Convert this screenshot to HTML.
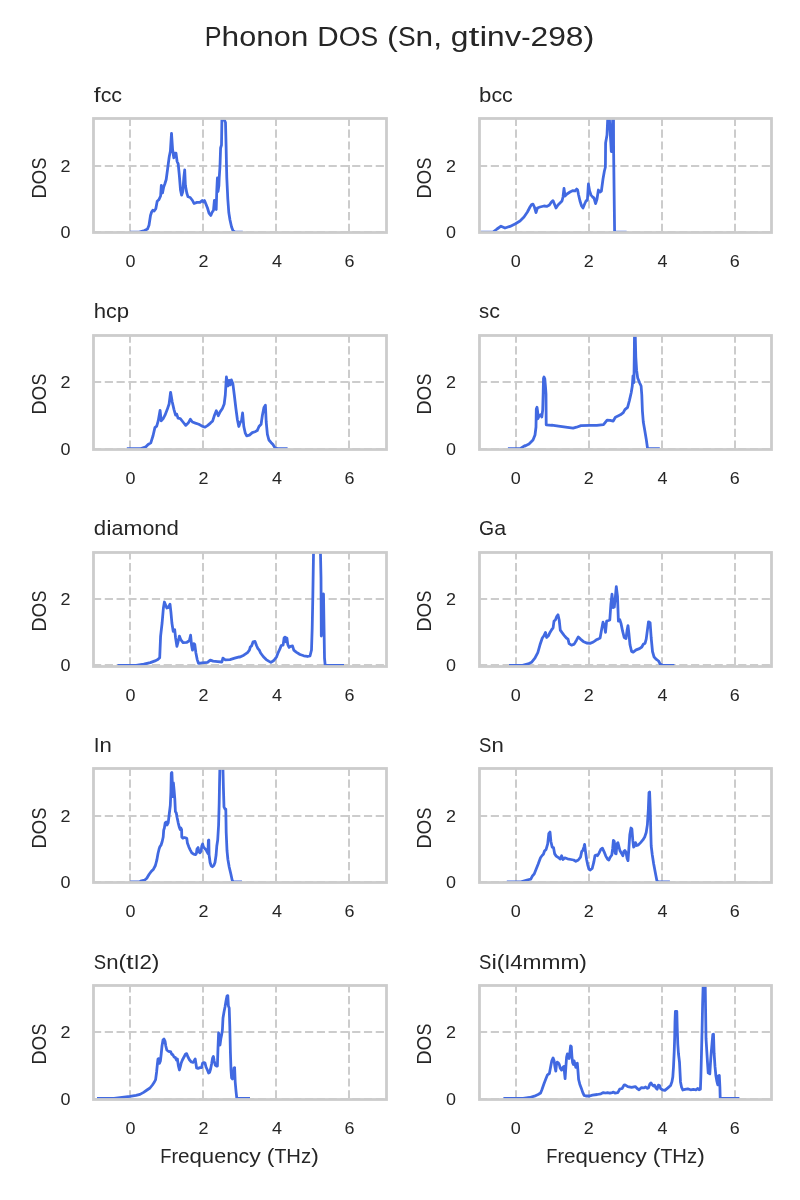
<!DOCTYPE html>
<html><head><meta charset="utf-8"><title>Phonon DOS</title>
<style>html,body{margin:0;padding:0;background:#fff}svg{display:block}text{font-family:"Liberation Sans",sans-serif;fill:#262626;filter:grayscale(1)}</style></head>
<body>
<svg width="800" height="1200" viewBox="0 0 800 1200">
<rect x="0" y="0" width="800" height="1200" fill="#ffffff"/>
<text x="204.82" y="45.90" font-size="28.20" textLength="16.76" lengthAdjust="spacingAndGlyphs">P</text>
<text x="221.58" y="45.90" font-size="28.20" textLength="17.62" lengthAdjust="spacingAndGlyphs">h</text>
<text x="239.20" y="45.90" font-size="28.20" textLength="17.01" lengthAdjust="spacingAndGlyphs">o</text>
<text x="256.21" y="45.90" font-size="28.20" textLength="17.62" lengthAdjust="spacingAndGlyphs">n</text>
<text x="273.83" y="45.90" font-size="28.20" textLength="17.01" lengthAdjust="spacingAndGlyphs">o</text>
<text x="290.84" y="45.90" font-size="28.20" textLength="17.62" lengthAdjust="spacingAndGlyphs">n</text>
<text x="317.29" y="45.90" font-size="28.20" textLength="21.41" lengthAdjust="spacingAndGlyphs">D</text>
<text x="338.70" y="45.90" font-size="28.20" textLength="21.88" lengthAdjust="spacingAndGlyphs">O</text>
<text x="360.58" y="45.90" font-size="28.20" textLength="17.65" lengthAdjust="spacingAndGlyphs">S</text>
<text x="387.06" y="45.90" font-size="28.20" textLength="10.85" lengthAdjust="spacingAndGlyphs">(</text>
<text x="397.91" y="45.90" font-size="28.20" textLength="17.65" lengthAdjust="spacingAndGlyphs">S</text>
<text x="415.56" y="45.90" font-size="28.20" textLength="17.62" lengthAdjust="spacingAndGlyphs">n</text>
<text x="433.18" y="45.90" font-size="28.20" textLength="8.84" lengthAdjust="spacingAndGlyphs">,</text>
<text x="450.85" y="45.90" font-size="28.20" textLength="17.65" lengthAdjust="spacingAndGlyphs">g</text>
<text x="468.50" y="45.90" font-size="28.20" textLength="10.90" lengthAdjust="spacingAndGlyphs">t</text>
<text x="479.40" y="45.90" font-size="28.20" textLength="7.72" lengthAdjust="spacingAndGlyphs">i</text>
<text x="487.12" y="45.90" font-size="28.20" textLength="17.62" lengthAdjust="spacingAndGlyphs">n</text>
<text x="504.74" y="45.90" font-size="28.20" textLength="16.45" lengthAdjust="spacingAndGlyphs">v</text>
<text x="521.19" y="45.90" font-size="28.20" textLength="9.28" lengthAdjust="spacingAndGlyphs">-</text>
<text x="530.48" y="45.90" font-size="28.20" textLength="17.69" lengthAdjust="spacingAndGlyphs">2</text>
<text x="548.16" y="45.90" font-size="28.20" textLength="17.69" lengthAdjust="spacingAndGlyphs">9</text>
<text x="565.85" y="45.90" font-size="28.20" textLength="17.69" lengthAdjust="spacingAndGlyphs">8</text>
<text x="583.54" y="45.90" font-size="28.20" textLength="10.85" lengthAdjust="spacingAndGlyphs">)</text>
<g>
<clipPath id="c1"><rect x="93.50" y="118.50" width="293.00" height="114.00"/></clipPath>
<line x1="130.00" y1="232.05" x2="130.00" y2="118.50" stroke="#cccccc" stroke-width="2.00" stroke-dasharray="8.2 3.58"/>
<line x1="203.00" y1="232.05" x2="203.00" y2="118.50" stroke="#cccccc" stroke-width="2.00" stroke-dasharray="8.2 3.58"/>
<line x1="276.00" y1="232.05" x2="276.00" y2="118.50" stroke="#cccccc" stroke-width="2.00" stroke-dasharray="8.2 3.58"/>
<line x1="349.00" y1="232.05" x2="349.00" y2="118.50" stroke="#cccccc" stroke-width="2.00" stroke-dasharray="8.2 3.58"/>
<line x1="93.00" y1="166.00" x2="386.50" y2="166.00" stroke="#cccccc" stroke-width="2.00" stroke-dasharray="8.2 3.58"/>
<line x1="93.00" y1="232.00" x2="386.50" y2="232.00" stroke="#cccccc" stroke-width="2.00" stroke-dasharray="8.2 3.58"/>
<path d="M129.9 232.1 L139.2 232.1 L144.5 230.5 L147.5 229.0 L149.0 225.2 L150.5 215.5 L151.7 211.8 L152.8 210.2 L154.2 211.0 L155.8 208.8 L157.2 201.2 L158.8 199.8 L160.6 196.0 L161.3 185.5 L162.5 193.0 L163.7 187.0 L164.8 184.0 L166.2 179.5 L167.8 167.5 L169.2 157.0 L170.4 151.0 L171.5 133.3 L172.6 149.5 L173.8 157.8 L174.9 153.2 L176.0 153.2 L177.1 161.5 L178.2 163.8 L179.3 175.0 L180.5 190.0 L181.6 195.2 L182.8 191.5 L183.8 178.0 L184.7 169.8 L185.4 185.5 L186.8 193.0 L188.0 196.8 L190.2 197.5 L192.5 200.5 L194.0 203.5 L197.0 202.4 L200.0 202.4 L202.2 200.5 L203.4 202.0 L204.5 200.5 L206.0 204.2 L207.5 208.0 L209.0 213.2 L210.8 215.5 L212.0 212.5 L213.5 210.2 L214.4 200.5 L215.3 208.8 L216.2 209.5 L216.8 190.0 L217.4 178.0 L218.0 191.5 L218.9 185.5 L219.2 178.0 L220.0 166.0 L220.6 148.0 L221.5 145.0 L221.9 120.0 L222.6 116.0 L225.5 122.5 L226.1 146.1 L226.5 166.0 L226.8 178.0 L227.8 199.0 L228.8 212.5 L230.0 220.0 L231.5 226.8 L233.0 230.8 L235.2 232.1 L242.8 232.1" fill="none" stroke="#4169e1" stroke-width="2.78" stroke-linejoin="round" stroke-linecap="butt" clip-path="url(#c1)"/>
<rect x="93.50" y="118.50" width="293.00" height="114.00" fill="none" stroke="#cccccc" stroke-width="2.80"/>
<text x="93.80" y="101.60" font-size="19.80" textLength="6.85" lengthAdjust="spacingAndGlyphs">f</text>
<text x="100.65" y="101.60" font-size="19.80" textLength="10.69" lengthAdjust="spacingAndGlyphs">c</text>
<text x="111.34" y="101.60" font-size="19.80" textLength="10.69" lengthAdjust="spacingAndGlyphs">c</text>
<text x="65.40" y="238.05" font-size="15.60" text-anchor="middle" textLength="10.0" lengthAdjust="spacingAndGlyphs">0</text>
<text x="65.40" y="172.05" font-size="15.60" text-anchor="middle" textLength="10.0" lengthAdjust="spacingAndGlyphs">2</text>
<text x="130.40" y="267.00" font-size="15.60" text-anchor="middle" textLength="10.0" lengthAdjust="spacingAndGlyphs">0</text>
<text x="203.40" y="267.00" font-size="15.60" text-anchor="middle" textLength="10.0" lengthAdjust="spacingAndGlyphs">2</text>
<text x="277.10" y="267.00" font-size="15.60" text-anchor="middle" textLength="10.0" lengthAdjust="spacingAndGlyphs">4</text>
<text x="349.40" y="267.00" font-size="15.60" text-anchor="middle" textLength="10.0" lengthAdjust="spacingAndGlyphs">6</text>
<g transform="translate(46.20 177.50) rotate(-90)">
<text x="-21.32" y="0.00" font-size="19.80" textLength="14.44" lengthAdjust="spacingAndGlyphs">D</text>
<text x="-6.88" y="0.00" font-size="19.80" textLength="14.76" lengthAdjust="spacingAndGlyphs">O</text>
<text x="7.88" y="0.00" font-size="19.80" textLength="11.90" lengthAdjust="spacingAndGlyphs">S</text>
</g>
</g>
<g>
<clipPath id="c2"><rect x="479.50" y="118.50" width="292.00" height="114.00"/></clipPath>
<line x1="516.00" y1="232.05" x2="516.00" y2="118.50" stroke="#cccccc" stroke-width="2.00" stroke-dasharray="8.2 3.58"/>
<line x1="589.00" y1="232.05" x2="589.00" y2="118.50" stroke="#cccccc" stroke-width="2.00" stroke-dasharray="8.2 3.58"/>
<line x1="662.00" y1="232.05" x2="662.00" y2="118.50" stroke="#cccccc" stroke-width="2.00" stroke-dasharray="8.2 3.58"/>
<line x1="735.00" y1="232.05" x2="735.00" y2="118.50" stroke="#cccccc" stroke-width="2.00" stroke-dasharray="8.2 3.58"/>
<line x1="479.00" y1="166.00" x2="771.50" y2="166.00" stroke="#cccccc" stroke-width="2.00" stroke-dasharray="8.2 3.58"/>
<line x1="479.00" y1="232.00" x2="771.50" y2="232.00" stroke="#cccccc" stroke-width="2.00" stroke-dasharray="8.2 3.58"/>
<path d="M481.0 232.1 L493.0 232.1 L497.0 229.0 L501.0 226.2 L505.0 228.0 L510.0 226.4 L515.0 224.0 L520.0 221.0 L524.0 217.0 L527.4 212.0 L530.0 207.0 L531.6 204.6 L533.0 204.2 L534.4 207.0 L536.0 212.6 L537.4 208.0 L540.0 207.0 L544.0 206.0 L547.0 206.4 L549.4 205.0 L551.4 202.0 L553.0 200.6 L554.4 204.0 L556.0 208.0 L558.0 205.0 L560.0 203.0 L562.0 201.0 L563.0 197.0 L564.0 188.4 L565.0 196.0 L567.0 194.0 L570.0 192.0 L573.0 190.6 L575.0 191.0 L576.6 189.0 L577.6 190.0 L578.6 195.0 L580.0 201.0 L581.6 206.0 L583.0 208.0 L584.6 204.0 L586.0 201.0 L587.4 200.0 L588.4 184.0 L589.6 191.0 L591.0 195.0 L592.6 197.0 L594.0 198.0 L595.6 203.6 L597.0 199.0 L598.4 190.0 L600.0 192.0 L601.4 191.0 L603.0 179.0 L604.4 171.0 L605.4 167.0 L605.6 143.0 L607.0 135.0 L607.8 117.0 L609.3 117.0 L611.3 151.5 L612.8 117.0 L613.5 117.0 L613.6 150.0 L614.6 232.1 L614.7 232.1 L626.6 232.1" fill="none" stroke="#4169e1" stroke-width="2.78" stroke-linejoin="round" stroke-linecap="butt" clip-path="url(#c2)"/>
<rect x="479.50" y="118.50" width="292.00" height="114.00" fill="none" stroke="#cccccc" stroke-width="2.80"/>
<text x="479.10" y="101.60" font-size="19.80" textLength="12.35" lengthAdjust="spacingAndGlyphs">b</text>
<text x="491.45" y="101.60" font-size="19.80" textLength="10.69" lengthAdjust="spacingAndGlyphs">c</text>
<text x="502.14" y="101.60" font-size="19.80" textLength="10.69" lengthAdjust="spacingAndGlyphs">c</text>
<text x="450.91" y="238.05" font-size="15.60" text-anchor="middle" textLength="10.0" lengthAdjust="spacingAndGlyphs">0</text>
<text x="450.91" y="172.05" font-size="15.60" text-anchor="middle" textLength="10.0" lengthAdjust="spacingAndGlyphs">2</text>
<text x="515.70" y="267.00" font-size="15.60" text-anchor="middle" textLength="10.0" lengthAdjust="spacingAndGlyphs">0</text>
<text x="588.70" y="267.00" font-size="15.60" text-anchor="middle" textLength="10.0" lengthAdjust="spacingAndGlyphs">2</text>
<text x="662.40" y="267.00" font-size="15.60" text-anchor="middle" textLength="10.0" lengthAdjust="spacingAndGlyphs">4</text>
<text x="734.70" y="267.00" font-size="15.60" text-anchor="middle" textLength="10.0" lengthAdjust="spacingAndGlyphs">6</text>
<g transform="translate(430.52 177.50) rotate(-90)">
<text x="-21.32" y="0.00" font-size="19.80" textLength="14.44" lengthAdjust="spacingAndGlyphs">D</text>
<text x="-6.88" y="0.00" font-size="19.80" textLength="14.76" lengthAdjust="spacingAndGlyphs">O</text>
<text x="7.88" y="0.00" font-size="19.80" textLength="11.90" lengthAdjust="spacingAndGlyphs">S</text>
</g>
</g>
<g>
<clipPath id="c3"><rect x="93.50" y="335.50" width="293.00" height="114.00"/></clipPath>
<line x1="130.00" y1="448.70" x2="130.00" y2="335.50" stroke="#cccccc" stroke-width="2.00" stroke-dasharray="8.2 3.58"/>
<line x1="203.00" y1="448.70" x2="203.00" y2="335.50" stroke="#cccccc" stroke-width="2.00" stroke-dasharray="8.2 3.58"/>
<line x1="276.00" y1="448.70" x2="276.00" y2="335.50" stroke="#cccccc" stroke-width="2.00" stroke-dasharray="8.2 3.58"/>
<line x1="349.00" y1="448.70" x2="349.00" y2="335.50" stroke="#cccccc" stroke-width="2.00" stroke-dasharray="8.2 3.58"/>
<line x1="93.00" y1="382.00" x2="386.50" y2="382.00" stroke="#cccccc" stroke-width="2.00" stroke-dasharray="8.2 3.58"/>
<line x1="93.00" y1="449.00" x2="386.50" y2="449.00" stroke="#cccccc" stroke-width="2.00" stroke-dasharray="8.2 3.58"/>
<path d="M126.8 448.7 L140.2 448.7 L145.9 446.8 L148.1 444.5 L150.8 442.9 L153.1 435.5 L154.9 427.6 L156.7 426.1 L158.2 420.9 L160.1 410.3 L161.2 420.9 L163.2 418.6 L165.0 415.2 L167.2 409.6 L169.1 404.0 L170.6 392.3 L172.2 401.8 L174.0 409.6 L175.6 415.2 L176.7 414.1 L178.1 418.2 L180.3 418.6 L183.0 422.0 L185.7 425.4 L188.2 423.1 L190.4 419.3 L192.4 422.0 L195.4 423.1 L198.8 424.2 L202.1 426.1 L205.1 427.2 L207.8 425.4 L210.4 423.1 L212.7 420.9 L214.5 415.2 L216.3 410.8 L218.3 415.7 L220.1 411.9 L222.4 408.5 L224.2 404.0 L225.3 395.0 L226.4 377.0 L228.0 386.0 L229.1 380.4 L230.2 384.9 L231.4 379.9 L232.9 383.8 L234.3 395.0 L235.9 408.5 L237.4 419.8 L238.8 426.5 L240.4 422.0 L241.5 420.9 L242.6 413.0 L243.8 426.5 L245.3 433.2 L246.7 435.9 L249.4 435.1 L252.3 432.6 L255.0 431.7 L257.2 430.6 L259.0 426.5 L261.1 424.2 L262.4 415.2 L264.0 407.4 L265.4 405.1 L266.2 422.0 L267.4 434.4 L268.9 440.0 L271.2 442.7 L273.0 444.5 L274.8 447.6 L277.5 448.7 L287.6 448.7" fill="none" stroke="#4169e1" stroke-width="2.78" stroke-linejoin="round" stroke-linecap="butt" clip-path="url(#c3)"/>
<rect x="93.50" y="335.50" width="293.00" height="114.00" fill="none" stroke="#cccccc" stroke-width="2.80"/>
<text x="93.80" y="317.60" font-size="19.80" textLength="12.33" lengthAdjust="spacingAndGlyphs">h</text>
<text x="106.13" y="317.60" font-size="19.80" textLength="10.69" lengthAdjust="spacingAndGlyphs">c</text>
<text x="116.82" y="317.60" font-size="19.80" textLength="12.35" lengthAdjust="spacingAndGlyphs">p</text>
<text x="65.40" y="455.05" font-size="15.60" text-anchor="middle" textLength="10.0" lengthAdjust="spacingAndGlyphs">0</text>
<text x="65.40" y="388.05" font-size="15.60" text-anchor="middle" textLength="10.0" lengthAdjust="spacingAndGlyphs">2</text>
<text x="130.40" y="484.00" font-size="15.60" text-anchor="middle" textLength="10.0" lengthAdjust="spacingAndGlyphs">0</text>
<text x="203.40" y="484.00" font-size="15.60" text-anchor="middle" textLength="10.0" lengthAdjust="spacingAndGlyphs">2</text>
<text x="277.10" y="484.00" font-size="15.60" text-anchor="middle" textLength="10.0" lengthAdjust="spacingAndGlyphs">4</text>
<text x="349.40" y="484.00" font-size="15.60" text-anchor="middle" textLength="10.0" lengthAdjust="spacingAndGlyphs">6</text>
<g transform="translate(46.20 393.50) rotate(-90)">
<text x="-21.32" y="0.00" font-size="19.80" textLength="14.44" lengthAdjust="spacingAndGlyphs">D</text>
<text x="-6.88" y="0.00" font-size="19.80" textLength="14.76" lengthAdjust="spacingAndGlyphs">O</text>
<text x="7.88" y="0.00" font-size="19.80" textLength="11.90" lengthAdjust="spacingAndGlyphs">S</text>
</g>
</g>
<g>
<clipPath id="c4"><rect x="479.50" y="335.50" width="292.00" height="114.00"/></clipPath>
<line x1="516.00" y1="448.70" x2="516.00" y2="335.50" stroke="#cccccc" stroke-width="2.00" stroke-dasharray="8.2 3.58"/>
<line x1="589.00" y1="448.70" x2="589.00" y2="335.50" stroke="#cccccc" stroke-width="2.00" stroke-dasharray="8.2 3.58"/>
<line x1="662.00" y1="448.70" x2="662.00" y2="335.50" stroke="#cccccc" stroke-width="2.00" stroke-dasharray="8.2 3.58"/>
<line x1="735.00" y1="448.70" x2="735.00" y2="335.50" stroke="#cccccc" stroke-width="2.00" stroke-dasharray="8.2 3.58"/>
<line x1="479.00" y1="382.00" x2="771.50" y2="382.00" stroke="#cccccc" stroke-width="2.00" stroke-dasharray="8.2 3.58"/>
<line x1="479.00" y1="449.00" x2="771.50" y2="449.00" stroke="#cccccc" stroke-width="2.00" stroke-dasharray="8.2 3.58"/>
<path d="M507.9 448.7 L520.2 448.7 L524.8 445.6 L525.0 446.0 L529.0 444.0 L533.0 440.0 L535.0 435.0 L536.0 427.0 L536.3 409.0 L537.0 407.2 L537.7 412.0 L537.9 418.8 L539.5 415.2 L541.0 414.6 L541.8 417.0 L542.7 410.0 L543.2 392.0 L543.5 378.2 L544.0 377.0 L544.8 378.8 L545.6 388.0 L546.0 394.0 L546.2 424.8 L552.0 425.4 L551.8 425.1 L558.5 426.1 L567.5 427.4 L573.1 428.1 L576.5 427.2 L581.0 425.6 L590.0 425.4 L596.8 425.4 L603.5 424.7 L605.3 422.4 L607.1 420.2 L610.2 420.4 L613.2 421.1 L615.2 417.5 L617.0 416.4 L620.4 414.8 L623.3 412.6 L624.9 409.6 L627.6 407.4 L629.4 400.6 L631.2 392.8 L632.3 386.0 L633.0 375.9 L633.9 382.6 L634.3 354.5 L634.5 333.1 L635.2 333.1 L635.8 357.0 L636.6 370.2 L637.7 378.1 L639.5 382.6 L641.1 386.0 L641.8 395.0 L642.4 410.8 L643.3 422.0 L644.7 429.9 L646.2 438.9 L647.6 448.7 L648.5 448.7 L659.8 448.7" fill="none" stroke="#4169e1" stroke-width="2.78" stroke-linejoin="round" stroke-linecap="butt" clip-path="url(#c4)"/>
<rect x="479.50" y="335.50" width="292.00" height="114.00" fill="none" stroke="#cccccc" stroke-width="2.80"/>
<text x="479.10" y="317.60" font-size="19.80" textLength="10.13" lengthAdjust="spacingAndGlyphs">s</text>
<text x="489.23" y="317.60" font-size="19.80" textLength="10.69" lengthAdjust="spacingAndGlyphs">c</text>
<text x="450.91" y="455.05" font-size="15.60" text-anchor="middle" textLength="10.0" lengthAdjust="spacingAndGlyphs">0</text>
<text x="450.91" y="388.05" font-size="15.60" text-anchor="middle" textLength="10.0" lengthAdjust="spacingAndGlyphs">2</text>
<text x="515.70" y="484.00" font-size="15.60" text-anchor="middle" textLength="10.0" lengthAdjust="spacingAndGlyphs">0</text>
<text x="588.70" y="484.00" font-size="15.60" text-anchor="middle" textLength="10.0" lengthAdjust="spacingAndGlyphs">2</text>
<text x="662.40" y="484.00" font-size="15.60" text-anchor="middle" textLength="10.0" lengthAdjust="spacingAndGlyphs">4</text>
<text x="734.70" y="484.00" font-size="15.60" text-anchor="middle" textLength="10.0" lengthAdjust="spacingAndGlyphs">6</text>
<g transform="translate(430.52 393.50) rotate(-90)">
<text x="-21.32" y="0.00" font-size="19.80" textLength="14.44" lengthAdjust="spacingAndGlyphs">D</text>
<text x="-6.88" y="0.00" font-size="19.80" textLength="14.76" lengthAdjust="spacingAndGlyphs">O</text>
<text x="7.88" y="0.00" font-size="19.80" textLength="11.90" lengthAdjust="spacingAndGlyphs">S</text>
</g>
</g>
<g>
<clipPath id="c5"><rect x="93.50" y="552.50" width="293.00" height="114.00"/></clipPath>
<line x1="130.00" y1="665.40" x2="130.00" y2="552.50" stroke="#cccccc" stroke-width="2.00" stroke-dasharray="8.2 3.58"/>
<line x1="203.00" y1="665.40" x2="203.00" y2="552.50" stroke="#cccccc" stroke-width="2.00" stroke-dasharray="8.2 3.58"/>
<line x1="276.00" y1="665.40" x2="276.00" y2="552.50" stroke="#cccccc" stroke-width="2.00" stroke-dasharray="8.2 3.58"/>
<line x1="349.00" y1="665.40" x2="349.00" y2="552.50" stroke="#cccccc" stroke-width="2.00" stroke-dasharray="8.2 3.58"/>
<line x1="93.00" y1="599.00" x2="386.50" y2="599.00" stroke="#cccccc" stroke-width="2.00" stroke-dasharray="8.2 3.58"/>
<line x1="93.00" y1="665.00" x2="386.50" y2="665.00" stroke="#cccccc" stroke-width="2.00" stroke-dasharray="8.2 3.58"/>
<path d="M117.5 665.4 L136.2 665.4 L143.8 664.1 L150.3 662.6 L155.0 660.9 L157.8 659.6 L159.7 657.7 L160.6 636.1 L162.1 623.0 L163.4 608.0 L164.4 602.0 L165.7 605.2 L166.8 608.0 L168.1 607.6 L170.0 604.2 L170.9 611.8 L171.9 623.0 L173.2 631.4 L174.7 629.6 L175.6 638.0 L176.9 646.4 L178.1 641.8 L179.4 636.1 L180.9 639.9 L183.1 642.7 L186.9 642.3 L189.3 640.8 L190.6 635.2 L191.6 645.5 L192.5 650.2 L193.8 643.6 L194.8 644.6 L195.9 653.0 L197.2 659.6 L198.5 663.3 L201.9 662.9 L207.5 662.4 L210.3 660.1 L213.1 661.1 L217.8 661.6 L221.9 662.0 L222.9 658.2 L225.3 659.9 L230.0 659.6 L234.7 658.2 L239.4 656.8 L240.0 657.1 L243.8 655.2 L247.5 652.6 L249.4 650.2 L250.3 647.0 L251.6 645.9 L253.1 641.8 L255.0 641.4 L256.5 645.5 L257.8 648.3 L259.3 650.2 L260.6 653.0 L263.4 656.8 L266.2 659.6 L269.1 661.4 L270.9 662.4 L273.8 660.5 L276.6 656.8 L278.4 652.1 L279.8 649.2 L281.2 645.5 L283.1 645.1 L284.1 638.0 L285.0 637.1 L285.9 641.8 L286.9 638.0 L287.8 644.6 L289.1 647.4 L290.6 646.4 L292.5 645.9 L293.8 650.2 L296.2 652.1 L300.0 654.5 L303.8 655.8 L307.5 656.4 L307.5 656.5 L310.0 656.0 L311.5 650.0 L312.2 628.0 L312.8 598.0 L313.5 554.0 L313.7 546.0 L320.3 546.0 L320.5 554.0 L321.0 578.0 L321.3 636.0 L323.5 594.0 L324.5 658.0 L325.2 665.4 L344.0 665.4" fill="none" stroke="#4169e1" stroke-width="2.78" stroke-linejoin="round" stroke-linecap="butt" clip-path="url(#c5)"/>
<rect x="93.50" y="552.50" width="293.00" height="114.00" fill="none" stroke="#cccccc" stroke-width="2.80"/>
<text x="93.80" y="534.60" font-size="19.80" textLength="12.35" lengthAdjust="spacingAndGlyphs">d</text>
<text x="106.15" y="534.60" font-size="19.80" textLength="5.40" lengthAdjust="spacingAndGlyphs">i</text>
<text x="111.55" y="534.60" font-size="19.80" textLength="11.92" lengthAdjust="spacingAndGlyphs">a</text>
<text x="123.47" y="534.60" font-size="19.80" textLength="18.95" lengthAdjust="spacingAndGlyphs">m</text>
<text x="142.42" y="534.60" font-size="19.80" textLength="11.90" lengthAdjust="spacingAndGlyphs">o</text>
<text x="154.32" y="534.60" font-size="19.80" textLength="12.33" lengthAdjust="spacingAndGlyphs">n</text>
<text x="166.64" y="534.60" font-size="19.80" textLength="12.35" lengthAdjust="spacingAndGlyphs">d</text>
<text x="65.40" y="671.05" font-size="15.60" text-anchor="middle" textLength="10.0" lengthAdjust="spacingAndGlyphs">0</text>
<text x="65.40" y="605.05" font-size="15.60" text-anchor="middle" textLength="10.0" lengthAdjust="spacingAndGlyphs">2</text>
<text x="130.40" y="701.00" font-size="15.60" text-anchor="middle" textLength="10.0" lengthAdjust="spacingAndGlyphs">0</text>
<text x="203.40" y="701.00" font-size="15.60" text-anchor="middle" textLength="10.0" lengthAdjust="spacingAndGlyphs">2</text>
<text x="277.10" y="701.00" font-size="15.60" text-anchor="middle" textLength="10.0" lengthAdjust="spacingAndGlyphs">4</text>
<text x="349.40" y="701.00" font-size="15.60" text-anchor="middle" textLength="10.0" lengthAdjust="spacingAndGlyphs">6</text>
<g transform="translate(46.20 610.50) rotate(-90)">
<text x="-21.32" y="0.00" font-size="19.80" textLength="14.44" lengthAdjust="spacingAndGlyphs">D</text>
<text x="-6.88" y="0.00" font-size="19.80" textLength="14.76" lengthAdjust="spacingAndGlyphs">O</text>
<text x="7.88" y="0.00" font-size="19.80" textLength="11.90" lengthAdjust="spacingAndGlyphs">S</text>
</g>
</g>
<g>
<clipPath id="c6"><rect x="479.50" y="552.50" width="292.00" height="114.00"/></clipPath>
<line x1="516.00" y1="665.40" x2="516.00" y2="552.50" stroke="#cccccc" stroke-width="2.00" stroke-dasharray="8.2 3.58"/>
<line x1="589.00" y1="665.40" x2="589.00" y2="552.50" stroke="#cccccc" stroke-width="2.00" stroke-dasharray="8.2 3.58"/>
<line x1="662.00" y1="665.40" x2="662.00" y2="552.50" stroke="#cccccc" stroke-width="2.00" stroke-dasharray="8.2 3.58"/>
<line x1="735.00" y1="665.40" x2="735.00" y2="552.50" stroke="#cccccc" stroke-width="2.00" stroke-dasharray="8.2 3.58"/>
<line x1="479.00" y1="599.00" x2="771.50" y2="599.00" stroke="#cccccc" stroke-width="2.00" stroke-dasharray="8.2 3.58"/>
<line x1="479.00" y1="665.00" x2="771.50" y2="665.00" stroke="#cccccc" stroke-width="2.00" stroke-dasharray="8.2 3.58"/>
<path d="M509.0 665.4 L522.5 665.4 L528.1 663.9 L531.5 662.3 L534.9 658.2 L537.8 652.6 L540.0 644.8 L542.3 638.0 L543.9 635.8 L545.5 632.4 L546.6 637.5 L548.4 635.8 L550.0 632.4 L551.8 629.5 L553.1 627.9 L554.0 621.1 L555.4 620.0 L556.7 616.6 L558.0 614.8 L559.2 620.0 L560.3 630.1 L561.9 632.4 L564.1 635.3 L566.4 638.0 L568.0 639.1 L569.1 643.6 L571.5 645.2 L574.2 644.1 L576.5 640.2 L578.3 636.9 L580.5 639.1 L583.2 641.4 L586.6 643.0 L590.0 643.4 L593.4 642.0 L596.3 639.8 L598.1 639.1 L600.1 638.0 L601.7 629.0 L603.0 622.2 L604.4 625.6 L605.5 632.4 L606.6 621.1 L608.5 620.5 L609.8 620.0 L610.9 604.2 L612.0 594.1 L613.2 607.6 L614.3 607.0 L615.4 596.4 L616.3 586.7 L617.5 596.4 L618.4 621.1 L619.7 619.5 L621.0 623.4 L622.6 631.2 L624.2 637.5 L626.0 638.5 L627.1 630.1 L628.0 625.6 L628.9 633.5 L630.0 644.8 L631.6 651.5 L633.2 652.2 L636.1 649.9 L639.5 648.6 L641.8 647.0 L643.3 644.3 L645.1 643.2 L646.2 639.1 L647.4 630.1 L648.5 621.8 L650.1 622.7 L651.2 638.0 L652.5 651.5 L654.1 657.1 L656.4 659.4 L658.6 661.0 L660.2 664.1 L663.1 665.4 L674.4 665.4" fill="none" stroke="#4169e1" stroke-width="2.78" stroke-linejoin="round" stroke-linecap="butt" clip-path="url(#c6)"/>
<rect x="479.50" y="552.50" width="292.00" height="114.00" fill="none" stroke="#cccccc" stroke-width="2.80"/>
<text x="479.10" y="534.60" font-size="19.80" textLength="15.07" lengthAdjust="spacingAndGlyphs">G</text>
<text x="494.17" y="534.60" font-size="19.80" textLength="11.92" lengthAdjust="spacingAndGlyphs">a</text>
<text x="450.91" y="671.05" font-size="15.60" text-anchor="middle" textLength="10.0" lengthAdjust="spacingAndGlyphs">0</text>
<text x="450.91" y="605.05" font-size="15.60" text-anchor="middle" textLength="10.0" lengthAdjust="spacingAndGlyphs">2</text>
<text x="515.70" y="701.00" font-size="15.60" text-anchor="middle" textLength="10.0" lengthAdjust="spacingAndGlyphs">0</text>
<text x="588.70" y="701.00" font-size="15.60" text-anchor="middle" textLength="10.0" lengthAdjust="spacingAndGlyphs">2</text>
<text x="662.40" y="701.00" font-size="15.60" text-anchor="middle" textLength="10.0" lengthAdjust="spacingAndGlyphs">4</text>
<text x="734.70" y="701.00" font-size="15.60" text-anchor="middle" textLength="10.0" lengthAdjust="spacingAndGlyphs">6</text>
<g transform="translate(430.52 610.50) rotate(-90)">
<text x="-21.32" y="0.00" font-size="19.80" textLength="14.44" lengthAdjust="spacingAndGlyphs">D</text>
<text x="-6.88" y="0.00" font-size="19.80" textLength="14.76" lengthAdjust="spacingAndGlyphs">O</text>
<text x="7.88" y="0.00" font-size="19.80" textLength="11.90" lengthAdjust="spacingAndGlyphs">S</text>
</g>
</g>
<g>
<clipPath id="c7"><rect x="93.50" y="768.50" width="293.00" height="114.00"/></clipPath>
<line x1="130.00" y1="882.05" x2="130.00" y2="768.50" stroke="#cccccc" stroke-width="2.00" stroke-dasharray="8.2 3.58"/>
<line x1="203.00" y1="882.05" x2="203.00" y2="768.50" stroke="#cccccc" stroke-width="2.00" stroke-dasharray="8.2 3.58"/>
<line x1="276.00" y1="882.05" x2="276.00" y2="768.50" stroke="#cccccc" stroke-width="2.00" stroke-dasharray="8.2 3.58"/>
<line x1="349.00" y1="882.05" x2="349.00" y2="768.50" stroke="#cccccc" stroke-width="2.00" stroke-dasharray="8.2 3.58"/>
<line x1="93.00" y1="816.00" x2="386.50" y2="816.00" stroke="#cccccc" stroke-width="2.00" stroke-dasharray="8.2 3.58"/>
<line x1="93.00" y1="882.00" x2="386.50" y2="882.00" stroke="#cccccc" stroke-width="2.00" stroke-dasharray="8.2 3.58"/>
<path d="M130.2 882.0 L139.2 882.0 L141.5 880.8 L144.5 880.2 L146.8 878.2 L149.0 874.5 L151.2 871.5 L153.5 869.2 L155.4 865.5 L156.8 860.2 L158.0 853.5 L159.1 849.0 L159.8 846.8 L161.0 845.2 L162.2 841.5 L163.2 837.0 L163.7 830.2 L164.4 828.0 L165.2 822.8 L166.2 822.0 L167.0 825.0 L168.2 822.8 L169.2 814.5 L170.3 805.5 L170.9 792.0 L171.3 773.2 L171.9 772.5 L172.4 784.5 L173.0 796.5 L173.4 783.0 L174.1 790.5 L174.8 798.8 L175.4 811.5 L176.3 813.0 L177.1 817.5 L178.2 822.8 L179.3 827.2 L180.2 829.5 L180.9 828.0 L181.6 829.5 L181.8 837.0 L182.8 838.2 L184.2 837.5 L185.8 837.8 L186.8 838.5 L187.4 843.0 L188.8 846.8 L190.2 849.8 L191.8 852.8 L193.7 854.2 L195.5 854.7 L196.4 853.5 L197.0 849.0 L198.1 847.5 L198.9 852.0 L200.0 852.8 L201.1 851.2 L201.8 846.0 L202.6 844.0 L203.4 846.8 L204.5 848.2 L206.0 849.8 L207.2 852.0 L207.9 853.5 L208.4 840.3 L208.8 840.0 L209.1 855.0 L210.1 862.5 L211.2 865.8 L212.4 866.7 L213.8 865.5 L215.0 862.5 L216.1 855.0 L216.8 846.0 L217.7 840.0 L218.6 825.0 L219.2 802.5 L219.6 780.0 L219.9 766.5 L222.9 766.5 L223.4 787.5 L224.0 807.0 L225.2 809.5 L225.8 809.2 L226.2 832.5 L227.0 850.5 L227.9 859.5 L229.2 867.0 L230.8 873.8 L232.2 880.2 L233.3 882.0 L242.0 882.0" fill="none" stroke="#4169e1" stroke-width="2.78" stroke-linejoin="round" stroke-linecap="butt" clip-path="url(#c7)"/>
<rect x="93.50" y="768.50" width="293.00" height="114.00" fill="none" stroke="#cccccc" stroke-width="2.80"/>
<text x="93.80" y="751.60" font-size="19.80" textLength="5.74" lengthAdjust="spacingAndGlyphs">I</text>
<text x="99.54" y="751.60" font-size="19.80" textLength="12.33" lengthAdjust="spacingAndGlyphs">n</text>
<text x="65.40" y="888.05" font-size="15.60" text-anchor="middle" textLength="10.0" lengthAdjust="spacingAndGlyphs">0</text>
<text x="65.40" y="822.05" font-size="15.60" text-anchor="middle" textLength="10.0" lengthAdjust="spacingAndGlyphs">2</text>
<text x="130.40" y="917.00" font-size="15.60" text-anchor="middle" textLength="10.0" lengthAdjust="spacingAndGlyphs">0</text>
<text x="203.40" y="917.00" font-size="15.60" text-anchor="middle" textLength="10.0" lengthAdjust="spacingAndGlyphs">2</text>
<text x="277.10" y="917.00" font-size="15.60" text-anchor="middle" textLength="10.0" lengthAdjust="spacingAndGlyphs">4</text>
<text x="349.40" y="917.00" font-size="15.60" text-anchor="middle" textLength="10.0" lengthAdjust="spacingAndGlyphs">6</text>
<g transform="translate(46.20 827.50) rotate(-90)">
<text x="-21.32" y="0.00" font-size="19.80" textLength="14.44" lengthAdjust="spacingAndGlyphs">D</text>
<text x="-6.88" y="0.00" font-size="19.80" textLength="14.76" lengthAdjust="spacingAndGlyphs">O</text>
<text x="7.88" y="0.00" font-size="19.80" textLength="11.90" lengthAdjust="spacingAndGlyphs">S</text>
</g>
</g>
<g>
<clipPath id="c8"><rect x="479.50" y="768.50" width="292.00" height="114.00"/></clipPath>
<line x1="516.00" y1="882.05" x2="516.00" y2="768.50" stroke="#cccccc" stroke-width="2.00" stroke-dasharray="8.2 3.58"/>
<line x1="589.00" y1="882.05" x2="589.00" y2="768.50" stroke="#cccccc" stroke-width="2.00" stroke-dasharray="8.2 3.58"/>
<line x1="662.00" y1="882.05" x2="662.00" y2="768.50" stroke="#cccccc" stroke-width="2.00" stroke-dasharray="8.2 3.58"/>
<line x1="735.00" y1="882.05" x2="735.00" y2="768.50" stroke="#cccccc" stroke-width="2.00" stroke-dasharray="8.2 3.58"/>
<line x1="479.00" y1="816.00" x2="771.50" y2="816.00" stroke="#cccccc" stroke-width="2.00" stroke-dasharray="8.2 3.58"/>
<line x1="479.00" y1="882.00" x2="771.50" y2="882.00" stroke="#cccccc" stroke-width="2.00" stroke-dasharray="8.2 3.58"/>
<path d="M506.8 882.0 L520.2 882.0 L527.0 880.0 L530.8 879.1 L532.6 875.7 L534.2 874.1 L536.0 869.6 L538.2 864.0 L540.5 857.7 L542.1 855.5 L543.4 854.3 L544.5 851.0 L546.1 849.4 L547.7 843.8 L548.8 833.6 L550.0 832.0 L550.9 841.5 L552.2 847.1 L553.5 847.6 L554.7 853.9 L556.2 856.1 L558.5 857.7 L560.3 859.0 L561.6 855.7 L563.0 859.5 L564.8 857.9 L567.5 858.8 L570.9 859.5 L573.6 860.0 L575.8 861.3 L578.3 860.0 L580.5 857.2 L581.7 851.6 L582.8 850.5 L583.9 847.1 L584.6 844.4 L585.5 851.6 L586.6 859.5 L587.8 865.1 L588.9 869.0 L590.0 870.1 L592.2 868.5 L593.8 862.2 L595.0 855.5 L596.3 855.0 L597.4 855.7 L599.0 853.2 L600.8 849.4 L602.4 848.2 L604.0 851.6 L605.8 856.1 L607.5 859.0 L608.9 860.0 L610.2 857.2 L611.8 855.0 L612.7 848.2 L613.4 840.4 L614.3 841.5 L615.2 853.4 L616.1 853.9 L617.0 843.8 L617.9 842.6 L618.8 846.0 L619.9 850.5 L621.5 853.4 L622.9 855.7 L623.8 851.6 L624.9 850.5 L626.0 852.3 L627.1 858.4 L628.0 860.6 L628.9 848.2 L629.8 834.8 L631.0 828.0 L631.9 829.1 L632.8 840.4 L633.6 847.1 L634.5 846.0 L635.5 842.6 L636.8 845.5 L638.4 844.9 L640.6 842.6 L642.9 839.9 L644.7 837.0 L646.2 832.5 L647.4 824.6 L648.3 810.0 L649.0 792.5 L649.6 792.0 L650.3 810.0 L650.8 832.5 L651.2 846.0 L652.3 855.0 L653.7 864.0 L655.2 871.9 L656.8 880.2 L658.0 882.0 L669.9 882.0" fill="none" stroke="#4169e1" stroke-width="2.78" stroke-linejoin="round" stroke-linecap="butt" clip-path="url(#c8)"/>
<rect x="479.50" y="768.50" width="292.00" height="114.00" fill="none" stroke="#cccccc" stroke-width="2.80"/>
<text x="479.10" y="751.60" font-size="19.80" textLength="12.35" lengthAdjust="spacingAndGlyphs">S</text>
<text x="491.45" y="751.60" font-size="19.80" textLength="12.33" lengthAdjust="spacingAndGlyphs">n</text>
<text x="450.91" y="888.05" font-size="15.60" text-anchor="middle" textLength="10.0" lengthAdjust="spacingAndGlyphs">0</text>
<text x="450.91" y="822.05" font-size="15.60" text-anchor="middle" textLength="10.0" lengthAdjust="spacingAndGlyphs">2</text>
<text x="515.70" y="917.00" font-size="15.60" text-anchor="middle" textLength="10.0" lengthAdjust="spacingAndGlyphs">0</text>
<text x="588.70" y="917.00" font-size="15.60" text-anchor="middle" textLength="10.0" lengthAdjust="spacingAndGlyphs">2</text>
<text x="662.40" y="917.00" font-size="15.60" text-anchor="middle" textLength="10.0" lengthAdjust="spacingAndGlyphs">4</text>
<text x="734.70" y="917.00" font-size="15.60" text-anchor="middle" textLength="10.0" lengthAdjust="spacingAndGlyphs">6</text>
<g transform="translate(430.52 827.50) rotate(-90)">
<text x="-21.32" y="0.00" font-size="19.80" textLength="14.44" lengthAdjust="spacingAndGlyphs">D</text>
<text x="-6.88" y="0.00" font-size="19.80" textLength="14.76" lengthAdjust="spacingAndGlyphs">O</text>
<text x="7.88" y="0.00" font-size="19.80" textLength="11.90" lengthAdjust="spacingAndGlyphs">S</text>
</g>
</g>
<g>
<clipPath id="c9"><rect x="93.50" y="985.50" width="293.00" height="114.00"/></clipPath>
<line x1="130.00" y1="1098.40" x2="130.00" y2="985.50" stroke="#cccccc" stroke-width="2.00" stroke-dasharray="8.2 3.58"/>
<line x1="203.00" y1="1098.40" x2="203.00" y2="985.50" stroke="#cccccc" stroke-width="2.00" stroke-dasharray="8.2 3.58"/>
<line x1="276.00" y1="1098.40" x2="276.00" y2="985.50" stroke="#cccccc" stroke-width="2.00" stroke-dasharray="8.2 3.58"/>
<line x1="349.00" y1="1098.40" x2="349.00" y2="985.50" stroke="#cccccc" stroke-width="2.00" stroke-dasharray="8.2 3.58"/>
<line x1="93.00" y1="1032.00" x2="386.50" y2="1032.00" stroke="#cccccc" stroke-width="2.00" stroke-dasharray="8.2 3.58"/>
<line x1="93.00" y1="1099.00" x2="386.50" y2="1099.00" stroke="#cccccc" stroke-width="2.00" stroke-dasharray="8.2 3.58"/>
<path d="M97.0 1098.4 L114.0 1098.4 L122.0 1097.4 L130.0 1096.4 L136.0 1095.4 L140.0 1094.4 L143.6 1092.4 L147.0 1090.0 L150.0 1088.0 L152.4 1085.0 L154.4 1082.0 L155.6 1079.6 L156.6 1072.0 L157.4 1064.0 L158.0 1059.0 L158.8 1058.6 L159.4 1063.4 L160.4 1061.0 L161.2 1054.0 L162.0 1046.0 L163.0 1040.0 L164.0 1039.0 L165.0 1041.0 L165.8 1046.0 L166.8 1050.0 L168.0 1051.0 L169.4 1051.6 L170.6 1051.6 L171.6 1054.0 L173.0 1055.0 L174.0 1057.0 L175.4 1057.6 L176.4 1060.0 L177.4 1059.0 L178.4 1066.0 L179.4 1070.0 L180.4 1066.4 L181.2 1063.0 L182.4 1060.0 L184.0 1057.0 L185.6 1054.0 L186.6 1053.6 L188.0 1057.0 L189.6 1060.0 L191.4 1062.0 L193.0 1062.4 L194.0 1061.0 L195.2 1059.0 L196.0 1064.0 L196.6 1068.0 L198.0 1068.4 L200.0 1067.6 L201.6 1067.6 L202.6 1063.0 L204.0 1062.6 L205.0 1063.0 L206.0 1067.0 L207.4 1070.0 L208.6 1073.0 L209.6 1072.4 L210.6 1069.0 L211.6 1064.0 L212.6 1058.0 L213.4 1056.4 L214.2 1061.0 L215.2 1065.0 L216.6 1066.0 L217.4 1066.0 L218.0 1048.0 L218.6 1033.0 L219.4 1037.0 L220.0 1045.0 L220.8 1039.0 L221.6 1035.0 L222.4 1030.0 L223.0 1018.0 L224.0 1012.0 L225.0 1007.0 L226.0 1001.0 L227.0 996.0 L227.8 995.6 L228.4 1006.0 L229.2 1008.0 L229.8 1026.0 L230.4 1052.0 L231.0 1070.0 L231.6 1078.0 L232.4 1079.0 L233.2 1076.0 L234.0 1068.0 L234.6 1067.6 L235.2 1082.0 L236.0 1091.0 L236.8 1098.4 L250.0 1098.4" fill="none" stroke="#4169e1" stroke-width="2.78" stroke-linejoin="round" stroke-linecap="butt" clip-path="url(#c9)"/>
<rect x="93.50" y="985.50" width="293.00" height="114.00" fill="none" stroke="#cccccc" stroke-width="2.80"/>
<text x="93.80" y="968.60" font-size="19.80" textLength="12.35" lengthAdjust="spacingAndGlyphs">S</text>
<text x="106.15" y="968.60" font-size="19.80" textLength="12.33" lengthAdjust="spacingAndGlyphs">n</text>
<text x="118.47" y="968.60" font-size="19.80" textLength="7.59" lengthAdjust="spacingAndGlyphs">(</text>
<text x="126.06" y="968.60" font-size="19.80" textLength="7.63" lengthAdjust="spacingAndGlyphs">t</text>
<text x="133.69" y="968.60" font-size="19.80" textLength="5.74" lengthAdjust="spacingAndGlyphs">I</text>
<text x="139.42" y="968.60" font-size="19.80" textLength="12.38" lengthAdjust="spacingAndGlyphs">2</text>
<text x="151.80" y="968.60" font-size="19.80" textLength="7.59" lengthAdjust="spacingAndGlyphs">)</text>
<text x="65.40" y="1105.05" font-size="15.60" text-anchor="middle" textLength="10.0" lengthAdjust="spacingAndGlyphs">0</text>
<text x="65.40" y="1038.05" font-size="15.60" text-anchor="middle" textLength="10.0" lengthAdjust="spacingAndGlyphs">2</text>
<text x="130.40" y="1134.00" font-size="15.60" text-anchor="middle" textLength="10.0" lengthAdjust="spacingAndGlyphs">0</text>
<text x="203.40" y="1134.00" font-size="15.60" text-anchor="middle" textLength="10.0" lengthAdjust="spacingAndGlyphs">2</text>
<text x="277.10" y="1134.00" font-size="15.60" text-anchor="middle" textLength="10.0" lengthAdjust="spacingAndGlyphs">4</text>
<text x="349.40" y="1134.00" font-size="15.60" text-anchor="middle" textLength="10.0" lengthAdjust="spacingAndGlyphs">6</text>
<g transform="translate(46.20 1043.50) rotate(-90)">
<text x="-21.32" y="0.00" font-size="19.80" textLength="14.44" lengthAdjust="spacingAndGlyphs">D</text>
<text x="-6.88" y="0.00" font-size="19.80" textLength="14.76" lengthAdjust="spacingAndGlyphs">O</text>
<text x="7.88" y="0.00" font-size="19.80" textLength="11.90" lengthAdjust="spacingAndGlyphs">S</text>
</g>
<text x="160.22" y="1163.20" font-size="19.80" textLength="11.19" lengthAdjust="spacingAndGlyphs">F</text>
<text x="171.41" y="1163.20" font-size="19.80" textLength="6.58" lengthAdjust="spacingAndGlyphs">r</text>
<text x="177.99" y="1163.20" font-size="19.80" textLength="11.54" lengthAdjust="spacingAndGlyphs">e</text>
<text x="189.53" y="1163.20" font-size="19.80" textLength="12.35" lengthAdjust="spacingAndGlyphs">q</text>
<text x="201.88" y="1163.20" font-size="19.80" textLength="12.33" lengthAdjust="spacingAndGlyphs">u</text>
<text x="214.20" y="1163.20" font-size="19.80" textLength="11.97" lengthAdjust="spacingAndGlyphs">e</text>
<text x="226.17" y="1163.20" font-size="19.80" textLength="12.33" lengthAdjust="spacingAndGlyphs">n</text>
<text x="238.50" y="1163.20" font-size="19.80" textLength="10.69" lengthAdjust="spacingAndGlyphs">c</text>
<text x="249.19" y="1163.20" font-size="19.80" textLength="11.51" lengthAdjust="spacingAndGlyphs">y</text>
<text x="266.89" y="1163.20" font-size="19.80" textLength="7.59" lengthAdjust="spacingAndGlyphs">(</text>
<text x="274.47" y="1163.20" font-size="19.80" textLength="11.88" lengthAdjust="spacingAndGlyphs">T</text>
<text x="286.35" y="1163.20" font-size="19.80" textLength="14.63" lengthAdjust="spacingAndGlyphs">H</text>
<text x="300.98" y="1163.20" font-size="19.80" textLength="10.21" lengthAdjust="spacingAndGlyphs">z</text>
<text x="311.19" y="1163.20" font-size="19.80" textLength="7.59" lengthAdjust="spacingAndGlyphs">)</text>
</g>
<g>
<clipPath id="c10"><rect x="479.50" y="985.50" width="292.00" height="114.00"/></clipPath>
<line x1="516.00" y1="1098.40" x2="516.00" y2="985.50" stroke="#cccccc" stroke-width="2.00" stroke-dasharray="8.2 3.58"/>
<line x1="589.00" y1="1098.40" x2="589.00" y2="985.50" stroke="#cccccc" stroke-width="2.00" stroke-dasharray="8.2 3.58"/>
<line x1="662.00" y1="1098.40" x2="662.00" y2="985.50" stroke="#cccccc" stroke-width="2.00" stroke-dasharray="8.2 3.58"/>
<line x1="735.00" y1="1098.40" x2="735.00" y2="985.50" stroke="#cccccc" stroke-width="2.00" stroke-dasharray="8.2 3.58"/>
<line x1="479.00" y1="1032.00" x2="771.50" y2="1032.00" stroke="#cccccc" stroke-width="2.00" stroke-dasharray="8.2 3.58"/>
<line x1="479.00" y1="1099.00" x2="771.50" y2="1099.00" stroke="#cccccc" stroke-width="2.00" stroke-dasharray="8.2 3.58"/>
<path d="M503.4 1098.4 L523.1 1098.4 L529.7 1097.5 L534.4 1096.2 L538.1 1094.5 L540.6 1093.0 L541.9 1089.8 L543.8 1084.2 L545.6 1079.5 L547.5 1074.8 L549.4 1073.5 L550.7 1066.4 L551.8 1060.8 L553.1 1057.9 L554.1 1060.8 L555.0 1067.3 L555.8 1071.1 L556.5 1064.5 L557.2 1062.2 L558.4 1063.0 L559.3 1064.5 L560.2 1068.2 L561.6 1070.1 L562.9 1067.3 L564.0 1066.4 L564.6 1073.9 L565.1 1078.6 L565.9 1066.4 L566.6 1057.0 L567.4 1053.8 L568.1 1056.1 L569.1 1058.5 L569.8 1053.2 L570.6 1045.8 L571.3 1046.7 L571.9 1056.1 L572.6 1062.6 L573.4 1064.5 L574.1 1060.8 L575.1 1064.5 L575.8 1067.3 L576.6 1063.6 L577.3 1063.2 L577.9 1070.1 L578.6 1079.5 L579.8 1084.2 L581.2 1087.9 L582.8 1092.6 L584.1 1095.4 L585.9 1096.0 L589.7 1096.0 L592.5 1095.1 L597.2 1094.5 L600.9 1093.8 L603.4 1092.6 L605.6 1093.0 L607.5 1092.6 L609.8 1093.2 L612.2 1092.6 L613.5 1092.1 L615.0 1093.0 L617.8 1092.6 L619.7 1089.2 L622.1 1088.5 L624.0 1085.1 L625.0 1084.8 L627.8 1086.6 L631.6 1087.4 L635.3 1086.6 L637.2 1088.5 L639.1 1089.8 L641.5 1087.6 L643.8 1087.9 L645.6 1087.0 L647.1 1088.3 L648.4 1087.9 L649.8 1084.2 L650.9 1082.9 L652.2 1084.8 L653.5 1086.1 L654.6 1085.1 L655.9 1087.9 L657.2 1089.2 L658.4 1085.1 L659.5 1085.5 L660.6 1088.5 L662.5 1089.8 L664.9 1090.4 L667.9 1087.9 L670.6 1085.5 L671.9 1081.9 L672.8 1077.1 L673.5 1066.9 L674.2 1051.9 L674.7 1036.9 L675.0 1021.9 L675.4 1011.4 L676.8 1011.4 L677.2 1027.0 L677.8 1044.1 L678.5 1054.0 L679.5 1062.1 L680.0 1072.0 L680.5 1081.9 L681.5 1087.0 L682.8 1090.0 L685.0 1089.4 L687.8 1088.9 L690.6 1089.8 L693.4 1089.4 L695.9 1089.8 L697.8 1088.5 L699.1 1089.8 L700.4 1089.2 L700.9 1075.8 L701.5 1053.2 L702.1 1028.9 L702.6 1004.5 L703.2 983.9 L705.2 983.9 L705.6 1010.1 L706.0 1038.2 L706.8 1051.4 L707.5 1062.6 L708.2 1072.9 L709.8 1073.9 L710.5 1062.6 L711.2 1053.2 L712.0 1043.9 L712.8 1034.5 L713.5 1034.1 L714.1 1053.2 L715.0 1066.4 L715.9 1075.8 L716.9 1081.4 L717.8 1084.8 L718.6 1075.8 L719.3 1075.4 L719.9 1087.0 L720.2 1098.4 L739.4 1098.4" fill="none" stroke="#4169e1" stroke-width="2.78" stroke-linejoin="round" stroke-linecap="butt" clip-path="url(#c10)"/>
<rect x="479.50" y="985.50" width="292.00" height="114.00" fill="none" stroke="#cccccc" stroke-width="2.80"/>
<text x="479.10" y="968.60" font-size="19.80" textLength="12.35" lengthAdjust="spacingAndGlyphs">S</text>
<text x="491.45" y="968.60" font-size="19.80" textLength="5.40" lengthAdjust="spacingAndGlyphs">i</text>
<text x="496.85" y="968.60" font-size="19.80" textLength="7.59" lengthAdjust="spacingAndGlyphs">(</text>
<text x="504.44" y="968.60" font-size="19.80" textLength="5.74" lengthAdjust="spacingAndGlyphs">I</text>
<text x="510.17" y="968.60" font-size="19.80" textLength="12.38" lengthAdjust="spacingAndGlyphs">4</text>
<text x="522.55" y="968.60" font-size="19.80" textLength="18.95" lengthAdjust="spacingAndGlyphs">m</text>
<text x="541.50" y="968.60" font-size="19.80" textLength="18.95" lengthAdjust="spacingAndGlyphs">m</text>
<text x="560.44" y="968.60" font-size="19.80" textLength="18.95" lengthAdjust="spacingAndGlyphs">m</text>
<text x="579.39" y="968.60" font-size="19.80" textLength="7.59" lengthAdjust="spacingAndGlyphs">)</text>
<text x="450.91" y="1105.05" font-size="15.60" text-anchor="middle" textLength="10.0" lengthAdjust="spacingAndGlyphs">0</text>
<text x="450.91" y="1038.05" font-size="15.60" text-anchor="middle" textLength="10.0" lengthAdjust="spacingAndGlyphs">2</text>
<text x="515.70" y="1134.00" font-size="15.60" text-anchor="middle" textLength="10.0" lengthAdjust="spacingAndGlyphs">0</text>
<text x="588.70" y="1134.00" font-size="15.60" text-anchor="middle" textLength="10.0" lengthAdjust="spacingAndGlyphs">2</text>
<text x="662.40" y="1134.00" font-size="15.60" text-anchor="middle" textLength="10.0" lengthAdjust="spacingAndGlyphs">4</text>
<text x="734.70" y="1134.00" font-size="15.60" text-anchor="middle" textLength="10.0" lengthAdjust="spacingAndGlyphs">6</text>
<g transform="translate(430.52 1043.50) rotate(-90)">
<text x="-21.32" y="0.00" font-size="19.80" textLength="14.44" lengthAdjust="spacingAndGlyphs">D</text>
<text x="-6.88" y="0.00" font-size="19.80" textLength="14.76" lengthAdjust="spacingAndGlyphs">O</text>
<text x="7.88" y="0.00" font-size="19.80" textLength="11.90" lengthAdjust="spacingAndGlyphs">S</text>
</g>
<text x="546.21" y="1163.20" font-size="19.80" textLength="11.19" lengthAdjust="spacingAndGlyphs">F</text>
<text x="557.40" y="1163.20" font-size="19.80" textLength="6.58" lengthAdjust="spacingAndGlyphs">r</text>
<text x="563.98" y="1163.20" font-size="19.80" textLength="11.54" lengthAdjust="spacingAndGlyphs">e</text>
<text x="575.52" y="1163.20" font-size="19.80" textLength="12.35" lengthAdjust="spacingAndGlyphs">q</text>
<text x="587.87" y="1163.20" font-size="19.80" textLength="12.33" lengthAdjust="spacingAndGlyphs">u</text>
<text x="600.19" y="1163.20" font-size="19.80" textLength="11.97" lengthAdjust="spacingAndGlyphs">e</text>
<text x="612.16" y="1163.20" font-size="19.80" textLength="12.33" lengthAdjust="spacingAndGlyphs">n</text>
<text x="624.49" y="1163.20" font-size="19.80" textLength="10.69" lengthAdjust="spacingAndGlyphs">c</text>
<text x="635.18" y="1163.20" font-size="19.80" textLength="11.51" lengthAdjust="spacingAndGlyphs">y</text>
<text x="652.88" y="1163.20" font-size="19.80" textLength="7.59" lengthAdjust="spacingAndGlyphs">(</text>
<text x="660.46" y="1163.20" font-size="19.80" textLength="11.88" lengthAdjust="spacingAndGlyphs">T</text>
<text x="672.34" y="1163.20" font-size="19.80" textLength="14.63" lengthAdjust="spacingAndGlyphs">H</text>
<text x="686.97" y="1163.20" font-size="19.80" textLength="10.21" lengthAdjust="spacingAndGlyphs">z</text>
<text x="697.18" y="1163.20" font-size="19.80" textLength="7.59" lengthAdjust="spacingAndGlyphs">)</text>
</g>
</svg>
</body></html>
